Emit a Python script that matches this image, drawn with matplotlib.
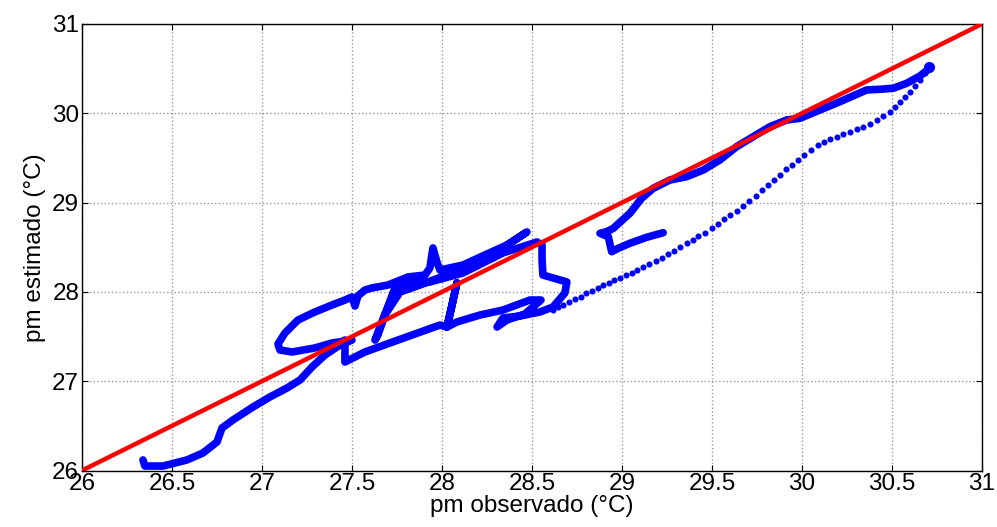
import numpy as np
import matplotlib.pyplot as plt

plt.rcParams['font.family'] = ['Liberation Sans', 'DejaVu Sans']

# thick traced part: bottom-left tail and the tangled cluster
obs_cluster = [26.339, 26.35, 26.45, 26.583, 26.672, 26.75, 26.778, 26.839, 26.95, 27.044,
               27.139, 27.211, 27.278, 27.35, 27.433, 27.5,
               27.389, 27.294, 27.167, 27.1, 27.089, 27.128, 27.2, 27.294, 27.389, 27.461,
               27.5, 27.517, 27.533, 27.572, 27.611, 27.7, 27.811, 27.906, 27.933, 27.95,
               27.972, 27.989,
               28.117, 28.25, 28.361, 28.472, 28.322, 28.1, 27.878, 27.767, 27.683, 27.644,
               27.628, 27.739, 27.778, 27.933, 28.117, 28.339, 28.528, 28.556, 28.556, 28.561,
               28.694, 28.683, 28.617, 28.544, 28.433, 28.339, 28.306, 28.361,
               28.461, 28.55, 28.489, 28.339, 28.211, 28.083, 28.028, 28.056, 28.083, 28.056,
               28.028, 27.989, 27.756, 27.572, 27.461, 27.461]
est_cluster = [26.118, 26.05, 26.05, 26.118, 26.196, 26.319, 26.476, 26.566, 26.711, 26.823,
               26.924, 27.013, 27.159, 27.293, 27.405, 27.461,
               27.428, 27.372, 27.327, 27.349, 27.417, 27.54, 27.685, 27.775, 27.853, 27.909,
               27.943, 27.842, 27.954, 28.021, 28.044, 28.077, 28.167, 28.189, 28.268, 28.492,
               28.335, 28.245,
               28.301, 28.424, 28.525, 28.671, 28.469, 28.245, 28.077, 27.999, 27.741, 27.517,
               27.461, 28.044, 28.077, 28.111, 28.212, 28.436, 28.559, 28.525, 28.357, 28.189,
               28.111, 27.988, 27.831, 27.775, 27.73, 27.708, 27.607, 27.685,
               27.753, 27.909, 27.909, 27.797, 27.741, 27.663, 27.607, 27.853, 28.1, 27.853,
               27.607, 27.629, 27.461, 27.327, 27.215, 27.461]

# thick traced part along the diagonal up to the top-right end
obs_upper = [29.229, 29.137, 29.044, 28.979, 28.943, 28.924, 28.878, 28.915, 28.952, 29.044,
             29.109, 29.174, 29.267, 29.359, 29.452, 29.544, 29.637, 29.729, 29.822, 29.915,
             29.989, 30.1, 30.211, 30.359, 30.433, 30.507, 30.582, 30.656, 30.702, 30.707]
est_upper = [28.663, 28.611, 28.544, 28.488, 28.45, 28.618, 28.656, 28.674, 28.712, 28.88,
             29.048, 29.16, 29.253, 29.29, 29.365, 29.477, 29.626, 29.738, 29.85, 29.925,
             29.944, 30.037, 30.13, 30.261, 30.269, 30.28, 30.336, 30.418, 30.493, 30.522]

# separated samples on the way back down
obs_dots = [30.683, 30.656, 30.628, 30.6, 30.572, 30.544, 30.517, 30.489, 30.45, 30.415,
            30.378, 30.339, 30.304, 30.267, 30.228, 30.193, 30.156, 30.122, 30.091, 30.048,
            30.013, 29.979, 29.943, 29.911, 29.878, 29.846, 29.813, 29.776, 29.743, 29.707,
            29.674, 29.637, 29.6, 29.567, 29.535, 29.498, 29.461, 29.424, 29.393, 29.359,
            29.322, 29.289, 29.257, 29.221, 29.187, 29.152, 29.118, 29.085, 29.054, 29.022,
            28.989, 28.957, 28.928, 28.896, 28.865, 28.832, 28.8, 28.771, 28.739, 28.707,
            28.674, 28.646, 28.618]
est_dots = [30.448, 30.373, 30.306, 30.242, 30.186, 30.13, 30.074, 30.018, 29.97, 29.925,
            29.88, 29.847, 29.819, 29.791, 29.763, 29.735, 29.707, 29.679, 29.645, 29.589,
            29.533, 29.477, 29.421, 29.373, 29.309, 29.253, 29.197, 29.141, 29.074, 29.021,
            28.962, 28.909, 28.861, 28.813, 28.76, 28.712, 28.663, 28.626, 28.581, 28.544,
            28.506, 28.461, 28.421, 28.383, 28.346, 28.309, 28.282, 28.245, 28.215, 28.189,
            28.159, 28.133, 28.103, 28.077, 28.04, 28.01, 27.984, 27.946, 27.917, 27.89,
            27.853, 27.828, 27.797]

ref_line = [26, 31]
x_ticks = [26, 26.5, 27, 27.5, 28, 28.5, 29, 29.5, 30, 30.5, 31]
x_tick_labels = ['26', '26.5', '27', '27.5', '28', '28.5', '29', '29.5', '30', '30.5', '31']
y_ticks = [26, 27, 28, 29, 30, 31]

blue = '#0000ff'
fs = 17.5

fig = plt.figure(figsize=(9.97, 5.27), dpi=100)
ax = fig.add_axes([0.0822, 0.1072, 0.9027, 0.8473])

ax.plot(obs_cluster, est_cluster, color=blue, lw=5.5,
        solid_capstyle='round', solid_joinstyle='round', zorder=3)
ax.plot(obs_upper, est_upper, color=blue, lw=5.5,
        solid_capstyle='round', solid_joinstyle='round', zorder=3)
ax.plot(obs_upper[-1], est_upper[-1], 'o', color=blue, ms=8, mec='none', zorder=3)
ax.plot(obs_dots, est_dots, 'o', color=blue, ms=4.4, mec='none', zorder=3)
ax.plot(ref_line, ref_line, color='red', lw=3.2, zorder=4)

ax.set_xlim(26, 31)
ax.set_ylim(26, 31)
ax.set_xticks(x_ticks)
ax.set_xticklabels(x_tick_labels)
ax.set_yticks(y_ticks)
ax.tick_params(direction='in', length=4, width=0.8, top=True, right=True,
               labelsize=fs, pad=2)
ax.grid(True, color='0.6', linestyle=':', linewidth=1.0)
ax.set_axisbelow(True)
for spine in ax.spines.values():
    spine.set_linewidth(1.0)

ax.set_xlabel('pm observado (°C)', fontsize=fs, labelpad=0)
ax.set_ylabel('pm estimado (°C)', fontsize=fs, labelpad=4)

fig.savefig('out.png', dpi=100)
